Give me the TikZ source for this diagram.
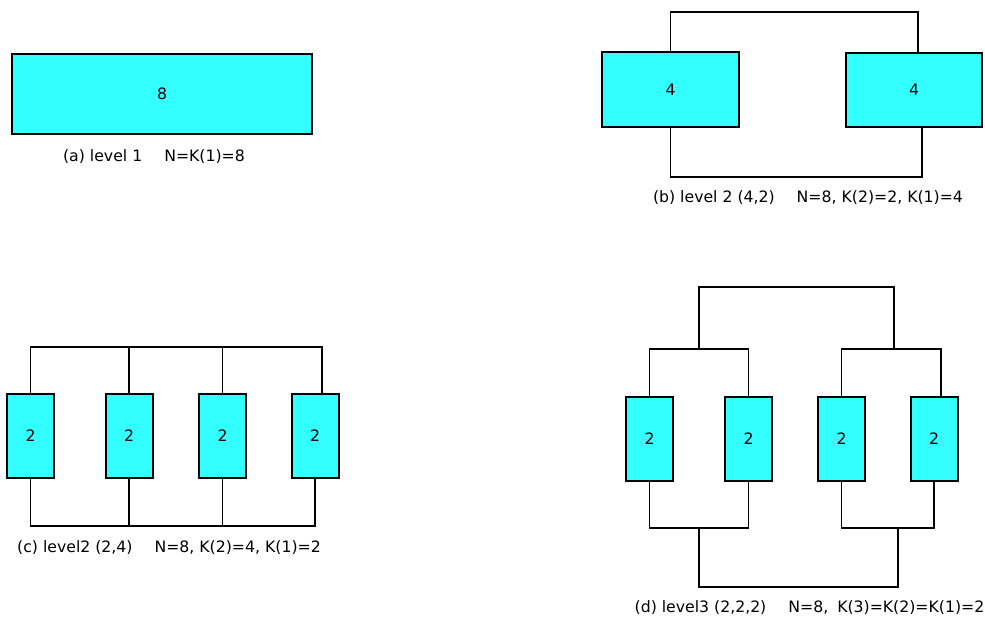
\documentclass[tikz,border=0pt]{standalone}
\usepackage{fontspec}
\setmainfont{DejaVu Sans}
\usepackage{xcolor}
\usepackage{tikz}
\usetikzlibrary{positioning,calc}
\definecolor{cB}{HTML}{33FFFF}
\tikzset{blk/.style={draw,fill=cB,line width=2pt,inner sep=0pt},
  wire/.style={line width=1.8pt,line join=miter},
  lbl/.style={inner sep=0pt,anchor=center}}
\newcommand{\gap}{\hspace{22pt}}

\begin{document}
\begin{tikzpicture}[x=1pt,y=-1pt,font=\fontsize{15.7}{19}\selectfont]
  \useasboundingbox (0,0) rectangle (985,622);
  \node[blk,minimum width=300pt,minimum height=80pt] (a8) at (162,94) {8};
  \node[lbl] (la) at (154,157) {(a) level 1\gap N=K(1)=8};
  \node[blk,minimum width=137pt,minimum height=75pt] (b1) at (670.5,89.5) {4};
  \node[blk,minimum width=136pt,minimum height=74pt] (b2) at (914,90) {4};
  \coordinate (btop) at (0,12); \coordinate (bbot) at (0,177);
  \draw[wire] (b1.north) -- (b1.north |- btop) -| ([xshift=4pt]b2.north);
  \draw[wire] (b1.south) -- (b1.south |- bbot) -| ([xshift=8pt]b2.south);
  \node[lbl] (lb) at (808,198) {(b) level 2 (4,2)\gap N=8, K(2)=2, K(1)=4};
  \foreach \n/\x in {1/30.5,2/129,3/222.5,4/315}
    \node[blk,minimum width=47pt,minimum height=84pt] (c\n) at (\x,436) {2};
  \coordinate (ctop) at (0,347); \coordinate (cbot) at (0,526);
  \draw[wire] (c1.north) -- (c1.north |- ctop) -| ([xshift=7pt]c4.north);
  \draw[wire] (c1.south) -- (c1.south |- cbot) -| (c4.south);
  \foreach \n in {2,3} { \draw[wire] (c\n.north) -- (c\n.north |- ctop); \draw[wire] (c\n.south) -- (c\n.south |- cbot); }
  \node[lbl] (lc) at (169,548) {(c) level2 (2,4)\gap N=8, K(2)=4, K(1)=2};
  \foreach \n/\x in {1/649.5,2/748.5,3/841.5,4/934}
    \node[blk,minimum width=47pt,minimum height=84pt] (d\n) at (\x,439) {2};
  \coordinate (dl) at ($(d1)!0.5!(d2)$); \coordinate (dr) at ($(d3)!0.5!(d4)$);
  \coordinate (dtop) at (0,287); \coordinate (dsubt) at (0,349); \coordinate (dsubb) at (0,528); \coordinate (dbot) at (0,587);
  \draw[wire] (d1.north) -- (d1.north |- dsubt) -| (d2.north);
  \draw[wire] (d3.north) -- (d3.north |- dsubt) -| ([xshift=7pt]d4.north);
  \draw[wire] (d1.south) -- (d1.south |- dsubb) -| (d2.south);
  \draw[wire] (d3.south) -- (d3.south |- dsubb) -| (d4.south);
  \draw[wire] (dl |- dsubt) -- (dl |- dtop) -| ([xshift=6pt]dr |- dsubt);
  \draw[wire] (dl |- dsubb) -- (dl |- dbot) -| ([xshift=10pt]dr |- dsubb);
  \node[lbl] (ld) at (809.5,608) {(d) level3 (2,2,2)\gap N=8,\hspace{9pt}K(3)=K(2)=K(1)=2};
\end{tikzpicture}
\end{document}
